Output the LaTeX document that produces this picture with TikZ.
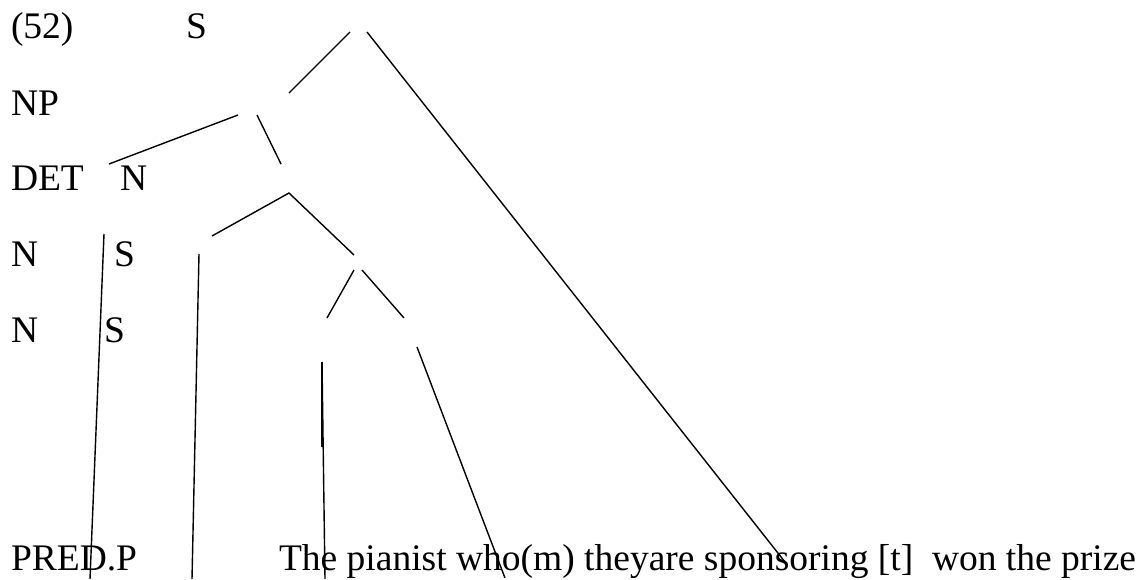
\documentclass[tikz,border=0pt]{standalone}
\usepackage{fontspec}
\setmainfont{Liberation Serif}
\begin{document}
\begin{tikzpicture}[x=1pt,y=-1pt,
  lbl/.style={anchor=base west,inner sep=0pt,outer sep=0pt,font=\fontsize{37.5}{44}\selectfont},
  branch/.style={line width=1.4pt,black}]
\useasboundingbox (0,0) rectangle (1141,579);
% labels
\node[lbl] (ex)   at (11,38)  {(52)};
\node[lbl] (s1)   at (186,38) {S};
\node[lbl] (np)   at (11,115) {NP};
\node[lbl] (det)  at (11,190) {DET};
\node[lbl] (n1)   at (120,190) {N};
\node[lbl] (n2)   at (11,266) {N};
\node[lbl] (s2)   at (114,266) {S};
\node[lbl] (n3)   at (11,342) {N};
\node[lbl] (s3)   at (104,342) {S};
\node[lbl] (pp)   at (11,570) {PRED.P};
\node[lbl] (sent) at (279,570) {The pianist who(m) theyare sponsoring [t]\ \ won the prize};
% branch end points
\coordinate (a1) at (350,32);  \coordinate (a2) at (289,93);
\coordinate (b1) at (367,32);  \coordinate (b2) at (785,562);
\coordinate (c1) at (238,115); \coordinate (c2) at (109,164);
\coordinate (d1) at (257,115); \coordinate (d2) at (281,164);
\coordinate (e1) at (212,236); \coordinate (e2) at (289,193); \coordinate (e3) at (354,255);
\coordinate (f1) at (354,270); \coordinate (f2) at (327,318);
\coordinate (g1) at (362,270); \coordinate (g2) at (404,318);
\coordinate (h1) at (104,234); \coordinate (h2) at (90,579);
\coordinate (i1) at (199,254); \coordinate (i2) at (192,579);
\coordinate (j1) at (322,362); \coordinate (j2) at (322,447); \coordinate (j3) at (325,579);
\coordinate (k1) at (417,347); \coordinate (k2) at (505,578);
% branches
\draw[branch] (a1) -- (a2);
\draw[branch] (b1) -- (b2);
\draw[branch] (c1) -- (c2);
\draw[branch] (d1) -- (d2);
\draw[branch] (e1) -- (e2) -- (e3);
\draw[branch] (f1) -- (f2);
\draw[branch] (g1) -- (g2);
\draw[branch] (h1) -- (h2);
\draw[branch] (i1) -- (i2);
\draw[branch,line width=2pt] (j1) -- (j2);
\draw[branch] (j1) -- (j3);
\draw[branch] (k1) -- (k2);
\end{tikzpicture}
\end{document}
